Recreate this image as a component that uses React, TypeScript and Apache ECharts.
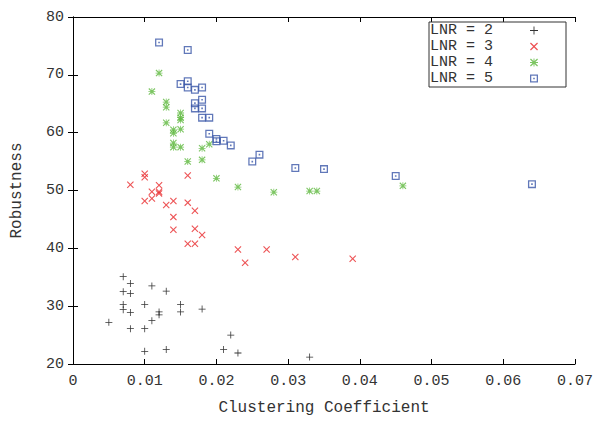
import React, { useEffect, useRef } from "react";
import * as echarts from "echarts";

const xTicks = { min: 0, max: 0.07, interval: 0.01 };
const yTicks = { min: 20, max: 80, interval: 10 };

const seriesNames = ["LNR = 2", "LNR = 3", "LNR = 4", "LNR = 5"];

const lnr2: number[][] = [
  [0.0070, 35.1], [0.0080, 33.9], [0.0110, 33.5], [0.0070, 32.5], [0.0080, 32.2],
  [0.0130, 32.6], [0.0070, 30.3], [0.0100, 30.3], [0.0150, 30.3], [0.0070, 29.4],
  [0.0080, 28.9], [0.0120, 29.0], [0.0120, 28.5], [0.0150, 29.0], [0.0180, 29.5],
  [0.0050, 27.2], [0.0110, 27.5], [0.0080, 26.1], [0.0100, 26.1], [0.0220, 25.0],
  [0.0100, 22.2], [0.0130, 22.5], [0.0210, 22.5], [0.0230, 21.9], [0.0330, 21.2],
];

const lnr3: number[][] = [
  [0.0100, 52.9], [0.0100, 52.3], [0.0160, 52.6], [0.0080, 51.0], [0.0120, 50.9],
  [0.0110, 49.8], [0.0120, 49.8], [0.0120, 49.5], [0.0100, 48.2], [0.0110, 48.6],
  [0.0130, 47.5], [0.0140, 48.2], [0.0160, 47.9], [0.0170, 46.5], [0.0140, 45.4],
  [0.0140, 43.2], [0.0170, 43.4], [0.0180, 42.3], [0.0160, 40.8], [0.0170, 40.8],
  [0.0230, 39.8], [0.0270, 39.8], [0.0240, 37.5], [0.0310, 38.5], [0.0390, 38.2],
];

const lnr4: number[][] = [
  [0.0120, 70.3], [0.0110, 67.1], [0.0130, 65.3], [0.0130, 64.4], [0.0150, 63.4],
  [0.0150, 62.6], [0.0150, 62.2], [0.0130, 61.7], [0.0140, 60.5], [0.0140, 59.9],
  [0.0150, 60.6], [0.0140, 58.2], [0.0140, 57.5], [0.0150, 57.5], [0.0190, 58.0],
  [0.0180, 57.3], [0.0160, 55.0], [0.0180, 55.3], [0.0200, 52.1], [0.0230, 50.6],
  [0.0280, 49.7], [0.0330, 49.9], [0.0340, 49.9], [0.0460, 50.8],
];

const lnr5: number[][] = [
  [0.0120, 75.6], [0.0160, 74.3], [0.0150, 68.4], [0.0160, 68.9], [0.0160, 67.8],
  [0.0170, 67.4], [0.0180, 67.8], [0.0180, 65.7], [0.0170, 65.1], [0.0170, 64.2],
  [0.0180, 64.2], [0.0180, 62.6], [0.0190, 62.6], [0.0190, 59.8], [0.0200, 58.9],
  [0.0200, 58.5], [0.0210, 58.6], [0.0220, 57.8], [0.0260, 56.2], [0.0250, 55.0],
  [0.0310, 53.9], [0.0350, 53.7], [0.0450, 52.5], [0.0640, 51.1],
];

const PLUS = "path://M4,0 L5,0 L5,4 L9,4 L9,5 L5,5 L5,9 L4,9 L4,5 L0,5 L0,4 L4,4 Z";
const CROSS =
  "path://M0,1 L1,0 L4.5,3.5 L8,0 L9,1 L5.5,4.5 L9,8 L8,9 L4.5,5.5 L1,9 L0,8 L3.5,4.5 Z";
const STAR =
  "path://M4,0 L5,0 L5,4 L9,4 L9,5 L5,5 L5,9 L4,9 L4,5 L0,5 L0,4 L4,4 Z M0,1 L1,0 L4.5,3.5 L8,0 L9,1 L5.5,4.5 L9,8 L8,9 L4.5,5.5 L1,9 L0,8 L3.5,4.5 Z M2.5,2.5 L6.5,2.5 L6.5,6.5 L2.5,6.5 Z";
const BOXDOT =
  "path://M0,0 L10,0 L10,10 L0,10 Z M1.6,1.6 L1.6,8.4 L8.4,8.4 L8.4,1.6 Z M4,4 L6,4 L6,6 L4,6 Z";

const FONT = "Liberation Mono";

export default function App() {
  const ref = useRef<HTMLDivElement>(null);
  useEffect(() => {
    if (!ref.current) return;
    const chart = echarts.init(ref.current, undefined, { renderer: "svg" });
    const axisLine = { show: true, lineStyle: { color: "#000", width: 1 } };
    const tick = { show: true, inside: true, length: 5, lineStyle: { color: "#000" } };
    const labelStyle = { fontFamily: FONT, fontSize: 15, color: "#333" };
    chart.setOption({
      animation: false,
      backgroundColor: "#fff",
      grid: { left: 73, right: 26, top: 17, bottom: 54, containLabel: false },
      xAxis: [
        {
          type: "value",
          ...xTicks,
          position: "bottom",
          name: "Clustering Coefficient",
          nameLocation: "middle",
          nameGap: 36,
          nameTextStyle: { fontFamily: FONT, fontSize: 16, color: "#333" },
          axisLine,
          axisTick: tick,
          axisLabel: { ...labelStyle, margin: 10 },
          splitLine: { show: false },
        },
        {
          type: "value",
          ...xTicks,
          position: "top",
          axisLine,
          axisTick: tick,
          axisLabel: { show: false },
          splitLine: { show: false },
        },
      ],
      yAxis: [
        {
          type: "value",
          ...yTicks,
          position: "left",
          name: "Robustness",
          nameLocation: "middle",
          nameGap: 48,
          nameTextStyle: { fontFamily: FONT, fontSize: 16, color: "#333" },
          axisLine,
          axisTick: tick,
          axisLabel: { ...labelStyle, margin: 9 },
          splitLine: { show: false },
        },
        {
          type: "value",
          ...yTicks,
          position: "right",
          axisLine,
          axisTick: tick,
          axisLabel: { show: false },
          splitLine: { show: false },
        },
      ],
      legend: {
        orient: "vertical",
        left: 429,
        top: 22,
        align: "right",
        itemWidth: 8,
        itemHeight: 8,
        itemGap: 1,
        padding: [1, 28, 1, 1],
        borderColor: "#333",
        borderWidth: 1,
        backgroundColor: "#fff",
        formatter: (name: string) => "{a|" + name + "}",
        textStyle: {
          fontFamily: FONT,
          fontSize: 15,
          color: "#333",
          rich: {
            a: {
              fontFamily: FONT,
              fontSize: 15,
              color: "#333",
              width: 95,
              align: "left",
              lineHeight: 16,
            },
          },
        },
        data: seriesNames,
      },
      series: [
        {
          name: seriesNames[0],
          type: "scatter",
          data: lnr2,
          symbol: PLUS,
          symbolSize: 7,
          itemStyle: { color: "#000" },
        },
        {
          name: seriesNames[1],
          type: "scatter",
          data: lnr3,
          symbol: CROSS,
          symbolSize: 7,
          itemStyle: { color: "#e8282b" },
        },
        {
          name: seriesNames[2],
          type: "scatter",
          data: lnr4,
          symbol: STAR,
          symbolSize: 7,
          itemStyle: { color: "#5cb83c" },
        },
        {
          name: seriesNames[3],
          type: "scatter",
          data: lnr5,
          symbol: BOXDOT,
          symbolSize: 8,
          itemStyle: { color: "#3a56a8" },
        },
      ],
    });
    return () => chart.dispose();
  }, []);
  return (
    <div
      ref={ref}
      style={{ position: "fixed", left: 0, top: 0, width: 601, height: 421 }}
    />
  );
}
